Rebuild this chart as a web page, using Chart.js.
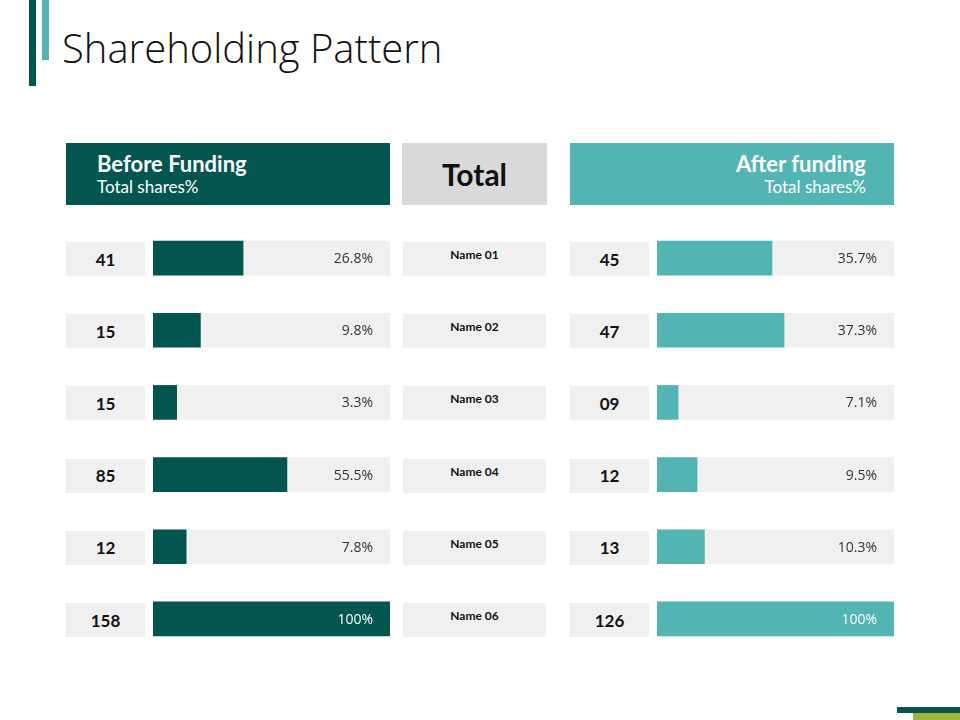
<!DOCTYPE html>
<html><head><meta charset="utf-8">
<script src="https://cdn.jsdelivr.net/npm/chart.js@4/dist/chart.umd.min.js"></script>
<style>
body{margin:0;width:960px;height:720px;background:#fff;position:relative;font-family:Lato,"Open Sans",sans-serif;overflow:hidden}
.abs{position:absolute}
.box{position:absolute;background:#f0f0f0;display:flex;align-items:center;justify-content:center;font-weight:bold;color:#111}
</style></head><body>
<div class="abs" style="left:29px;top:0;width:7px;height:86px;background:#03564f"></div>
<div class="abs" style="left:42px;top:0;width:7px;height:60px;background:#52b5b3"></div>
<div class="abs" style="left:62px;top:20px;font-size:40px;color:#111;font-family:'Open Sans';font-weight:300">Shareholding Pattern</div>
<div class="abs" style="left:897px;top:707px;width:63px;height:6px;background:#03564f"></div>
<div class="abs" style="left:913px;top:713px;width:47px;height:7px;background:#9cb835"></div>

<div class="abs" style="left:66px;top:143px;width:324px;height:62px;background:#03564f;color:#fff">
 <div style="position:absolute;left:31px;top:7px;font-size:22px;font-weight:bold">Before Funding</div>
 <div style="position:absolute;left:31px;top:33px;font-size:17px">Total shares%</div>
</div>
<div class="abs" style="left:402px;top:143px;width:145px;height:62px;background:#d9d9d9;display:flex;align-items:center;justify-content:center;font-size:30px;font-weight:bold;color:#111">Total</div>
<div class="abs" style="left:570px;top:143px;width:324px;height:62px;background:#52b5b3;color:#fff;text-align:right">
 <div style="position:absolute;right:28px;top:7px;font-size:22px;font-weight:bold">After funding</div>
 <div style="position:absolute;right:28px;top:33px;font-size:17px">Total shares%</div>
</div>
<div id="rows"></div>
<canvas id="c1" class="abs" style="left:153px;top:222px"></canvas>
<canvas id="c2" class="abs" style="left:657px;top:222px"></canvas>
<script>
const names=["Name 01","Name 02","Name 03","Name 04","Name 05","Name 06"];
const beforeCounts=["41","15","15","85","12","158"];
const beforeLabels=["26.8%","9.8%","3.3%","55.5%","7.8%","100%"];
const beforeFill=[38,20,10,56.5,14,100];
const afterCounts=["45","47","09","12","13","126"];
const afterLabels=["35.7%","37.3%","7.1%","9.5%","10.3%","100%"];
const afterFill=[48.5,53.6,8.9,16.9,20,100];

const rows=document.getElementById('rows');
names.forEach((n,i)=>{
  const top=242+i*72.2;
  rows.insertAdjacentHTML('beforeend',
   `<div class="box" style="left:66px;top:${top}px;width:79px;height:34px;font-size:17px">${beforeCounts[i]}</div>
    <div class="box" style="left:403px;top:${top}px;width:143px;height:34px;font-size:12px;align-items:flex-start;padding-top:5px;box-sizing:border-box">${n}</div>
    <div class="box" style="left:570px;top:${top}px;width:79px;height:34px;font-size:17px">${afterCounts[i]}</div>`);
});

function make(id,fill,labels,color){
  const el=document.getElementById(id);
  el.width=237;el.height=433;el.style.width='237px';el.style.height='433px';
  new Chart(el,{type:'bar',
   data:{labels:names,datasets:[
     {data:fill,backgroundColor:color,barThickness:34,grouped:false},
     {data:names.map(()=>100),backgroundColor:'#f0f0f0',barThickness:34,grouped:false}]},
   options:{indexAxis:'y',responsive:false,animation:false,devicePixelRatio:1,
     layout:{padding:0},
     plugins:{legend:{display:false},tooltip:{enabled:false}},
     scales:{x:{display:false,min:0,max:100},y:{display:false}}},
   plugins:[{id:'lbl',afterDatasetsDraw(ch){
     const c=ch.ctx,m=ch.getDatasetMeta(0);
     c.save();c.font='14px "Open Sans"';c.textAlign='right';c.textBaseline='middle';
     m.data.forEach((b,i)=>{c.fillStyle=fill[i]>=95?'#fff':'#333';c.fillText(labels[i],ch.scales.x.right-17,b.y+1);});
     c.restore();}}]
  });
}
make('c1',beforeFill,beforeLabels,'#03564f');
make('c2',afterFill,afterLabels,'#52b5b3');
</script></body></html>
